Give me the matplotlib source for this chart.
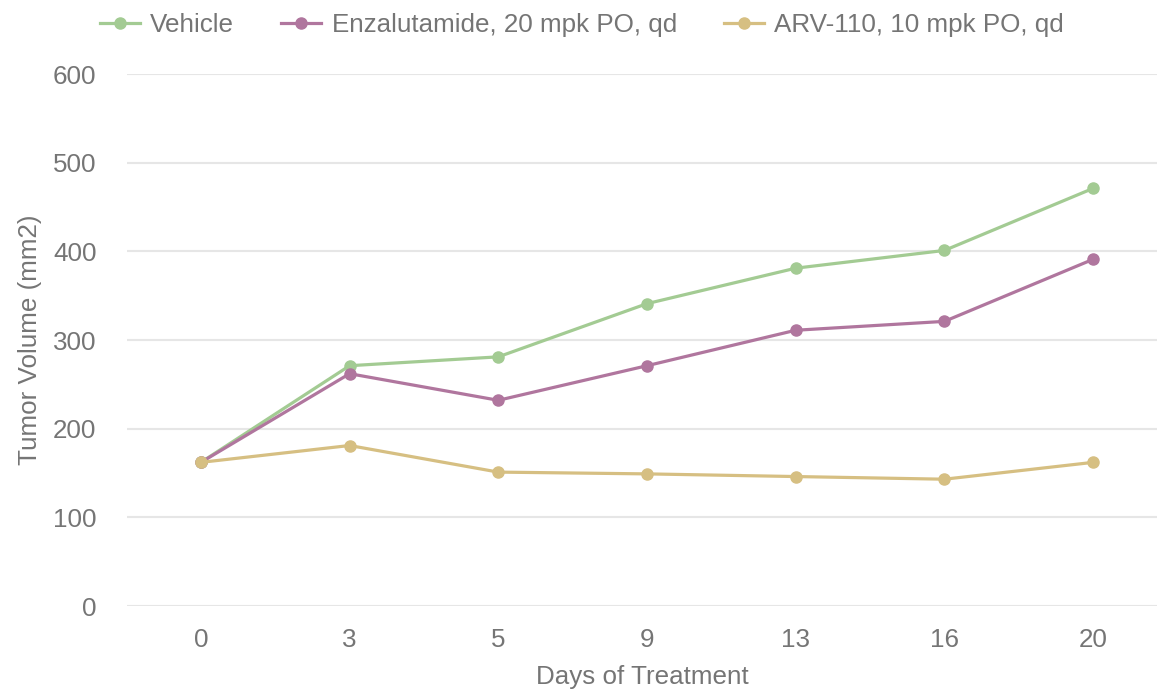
import matplotlib
matplotlib.use("Agg")
import matplotlib.pyplot as plt

days = ["0", "3", "5", "9", "13", "16", "20"]
vehicle = [162, 271, 281, 341, 381, 401, 471]
enzalutamide = [162, 262, 232, 271, 311, 321, 391]
arv110 = [162, 181, 151, 149, 146, 143, 162]
yticks = [0, 100, 200, 300, 400, 500, 600]

series = [
    ("Vehicle", vehicle, "#a3cb93"),
    ("Enzalutamide, 20 mpk PO, qd", enzalutamide, "#b0769e"),
    ("ARV-110, 10 mpk PO, qd", arv110, "#d6bf82"),
]

plt.rcParams['font.family'] = ['Liberation Sans', 'DejaVu Sans']
text_color = "#757575"
fs = 18.7

W, H = 1157, 690
fig = plt.figure(figsize=(W / 100, H / 100), dpi=100)
left, right, top, bottom = 127, 1157, 74, 606
ax = fig.add_axes([left / W, 1 - bottom / H, (right - left) / W, (bottom - top) / H])

x = list(range(len(days)))
handles = []
for name, vals, color in series:
    ln, = ax.plot(x, vals, color=color, lw=2.3, marker='o', markersize=8,
                  clip_on=False, zorder=3, label=name)
    handles.append(ln)

ax.set_xlim(-0.497, -0.497 + (right - left) / 148.7)
ax.set_ylim(0, 600)
ax.set_yticks(yticks)
ax.set_xticks(x)
ax.set_xticklabels(days)
ax.grid(axis='y', color='#e6e6e6', lw=1.5)
ax.set_axisbelow(True)
for s in ax.spines.values():
    s.set_visible(False)
ax.tick_params(axis='both', length=0, labelsize=fs, labelcolor=text_color)
ax.tick_params(axis='y', pad=22)
ax.tick_params(axis='x', pad=16)
ax.set_xlabel("Days of Treatment", fontsize=fs, color=text_color, labelpad=9)
ax.set_ylabel("Tumor Volume (mm2)", fontsize=fs, color=text_color, labelpad=8)

leg = fig.legend(handles=handles, loc='center left', bbox_to_anchor=(100 / W, 1 - 25 / H),
                 ncol=3, frameon=False, fontsize=fs, labelcolor=text_color,
                 handlelength=1.54, handletextpad=0.4, columnspacing=1.8,
                 borderaxespad=0, borderpad=0)

fig.savefig("out.png", dpi=100)
